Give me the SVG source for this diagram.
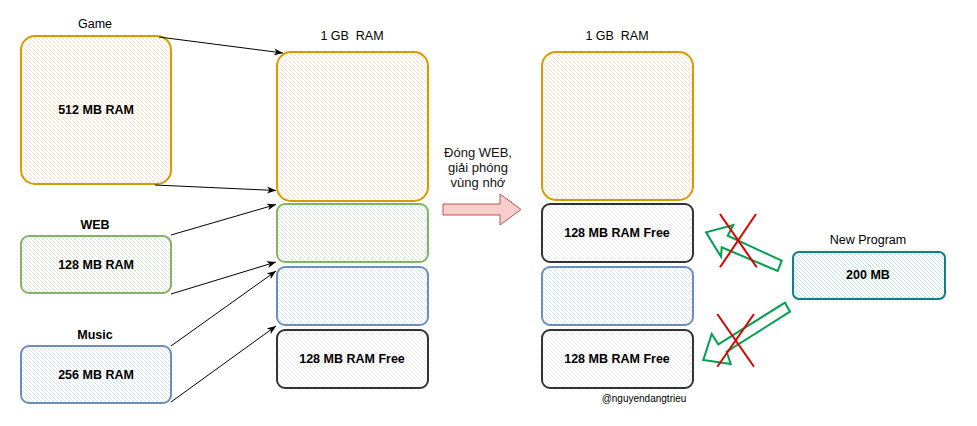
<svg xmlns="http://www.w3.org/2000/svg" width="977" height="426" viewBox="0 0 977 426">
<defs>
<pattern id="hO" patternUnits="userSpaceOnUse" width="4" height="4"><path d="M0,0L4,4M-1,3L1,5M3,-1L5,1" stroke="#fdd6b0" stroke-width="0.75"/></pattern>
<pattern id="hG" patternUnits="userSpaceOnUse" width="4" height="4"><path d="M0,0L4,4M-1,3L1,5M3,-1L5,1" stroke="#c8e0c6" stroke-width="0.75"/></pattern>
<pattern id="hB" patternUnits="userSpaceOnUse" width="4" height="4"><path d="M0,0L4,4M-1,3L1,5M3,-1L5,1" stroke="#cadcf6" stroke-width="0.75"/></pattern>
<pattern id="hK" patternUnits="userSpaceOnUse" width="4" height="4"><path d="M0,0L4,4M-1,3L1,5M3,-1L5,1" stroke="#e4e4e4" stroke-width="0.75"/></pattern>
<pattern id="hT" patternUnits="userSpaceOnUse" width="4" height="4"><path d="M0,0L4,4M-1,3L1,5M3,-1L5,1" stroke="#a9dde1" stroke-width="0.75"/></pattern>
<marker id="arr" markerWidth="10" markerHeight="8" refX="9" refY="4" orient="auto" markerUnits="userSpaceOnUse">
<path d="M0,0.5L9,4L0,7.5L2.5,4Z" fill="#000"/>
</marker>
</defs>
<style>
text{font-family:"Liberation Sans",Arial,sans-serif;font-size:12.5px;fill:#000;text-anchor:middle}
.b{font-weight:bold}
.m{font-size:13px;fill:#111}
.o{fill:url(#hO);stroke:#d79b00;stroke-width:2}
.g{fill:url(#hG);stroke:#82b366;stroke-width:2}
.bl{fill:url(#hB);stroke:#6c8ebf;stroke-width:2}
.k{fill:url(#hK);stroke:#333;stroke-width:2}
.t{fill:url(#hT);stroke:#0e8088;stroke-width:2}
.c{stroke:#000;stroke-width:1;fill:none;marker-end:url(#arr)}
.ga{fill:#fff;stroke:#00a050;stroke-width:2;stroke-linejoin:miter}
.x{stroke:#e00000;stroke-width:2}
</style>
<rect width="977" height="426" fill="#fff"/>

<g id="game">
<text x="95" y="28">Game</text>
<rect class="o" x="21" y="36" width="150" height="148" rx="14"/>
<text class="b" x="96" y="114">512 MB RAM</text>
</g>
<g id="web">
<text class="b" x="95" y="229">WEB</text>
<rect class="g" x="21" y="236" width="150" height="57" rx="8"/>
<text class="b" x="96" y="269">128 MB RAM</text>
</g>
<g id="music">
<text class="b" x="95" y="339">Music</text>
<rect class="bl" x="21" y="346" width="150" height="57" rx="8"/>
<text class="b" x="96" y="379">256 MB RAM</text>
</g>

<g id="ram1">
<text x="352" y="40">1 GB&#160; RAM</text>
<rect class="o" x="277" y="52" width="151" height="149" rx="14"/>
<rect class="g" x="277" y="204" width="151" height="58" rx="8"/>
<rect class="bl" x="277" y="267" width="151" height="58" rx="8"/>
<rect class="k" x="277" y="330" width="151" height="58" rx="8"/>
<text class="b" x="352" y="363">128 MB RAM Free</text>
</g>

<g id="ram2">
<text x="617" y="40">1 GB&#160; RAM</text>
<rect class="o" x="542" y="52" width="151" height="148" rx="14"/>
<rect class="k" x="542" y="204" width="151" height="58" rx="8"/>
<text class="b" x="617" y="237">128 MB RAM Free</text>
<rect class="bl" x="542" y="267" width="151" height="58" rx="8"/>
<rect class="k" x="542" y="330" width="151" height="58" rx="8"/>
<text class="b" x="617" y="363">128 MB RAM Free</text>
</g>

<g id="newprog">
<text x="868" y="244">New Program</text>
<rect class="t" x="793" y="252" width="152" height="47" rx="6"/>
<text class="b" x="868" y="279">200 MB</text>
</g>

<g id="release">
<text class="m" x="478" y="157">Đóng WEB,</text>
<text class="m" x="478" y="172">giải phóng</text>
<text class="m" x="478" y="187">vùng nhớ</text>
<path d="M443,204L500,204L500,194L521,209.5L500,225L500,215L443,215Z" fill="#f8cecc" stroke="#b85450" stroke-width="1"/>
</g>

<g id="connectors">
<path class="c" d="M159,37L283,53"/>
<path class="c" d="M155,185L276,190.5"/>
<path class="c" d="M171,235L276,204.5"/>
<path class="c" d="M171,294L276,262"/>
<path class="c" d="M171,346L276,271"/>
<path class="c" d="M171,402L276,326"/>
</g>

<g id="blocked-up">
<path class="ga" d="M781.7,260.7L727.7,235.7L733.3,225L706,232.3L721,256.7L721.7,247.3L777.7,271Z"/>
<path class="x" d="M720,214L756.7,267.3M756,214L720,267.3"/>
</g>
<g id="blocked-down">
<path class="ga" d="M785,302.7L718.3,344.3L711.7,334L703.3,360L730.7,364L726.7,351.7L790,311.7Z"/>
<path class="x" d="M717.3,314L754,366.7M754,314L717.3,366.7"/>
</g>

<text x="644" y="402" style="font-size:10px">@nguyendangtrieu</text>
</svg>
